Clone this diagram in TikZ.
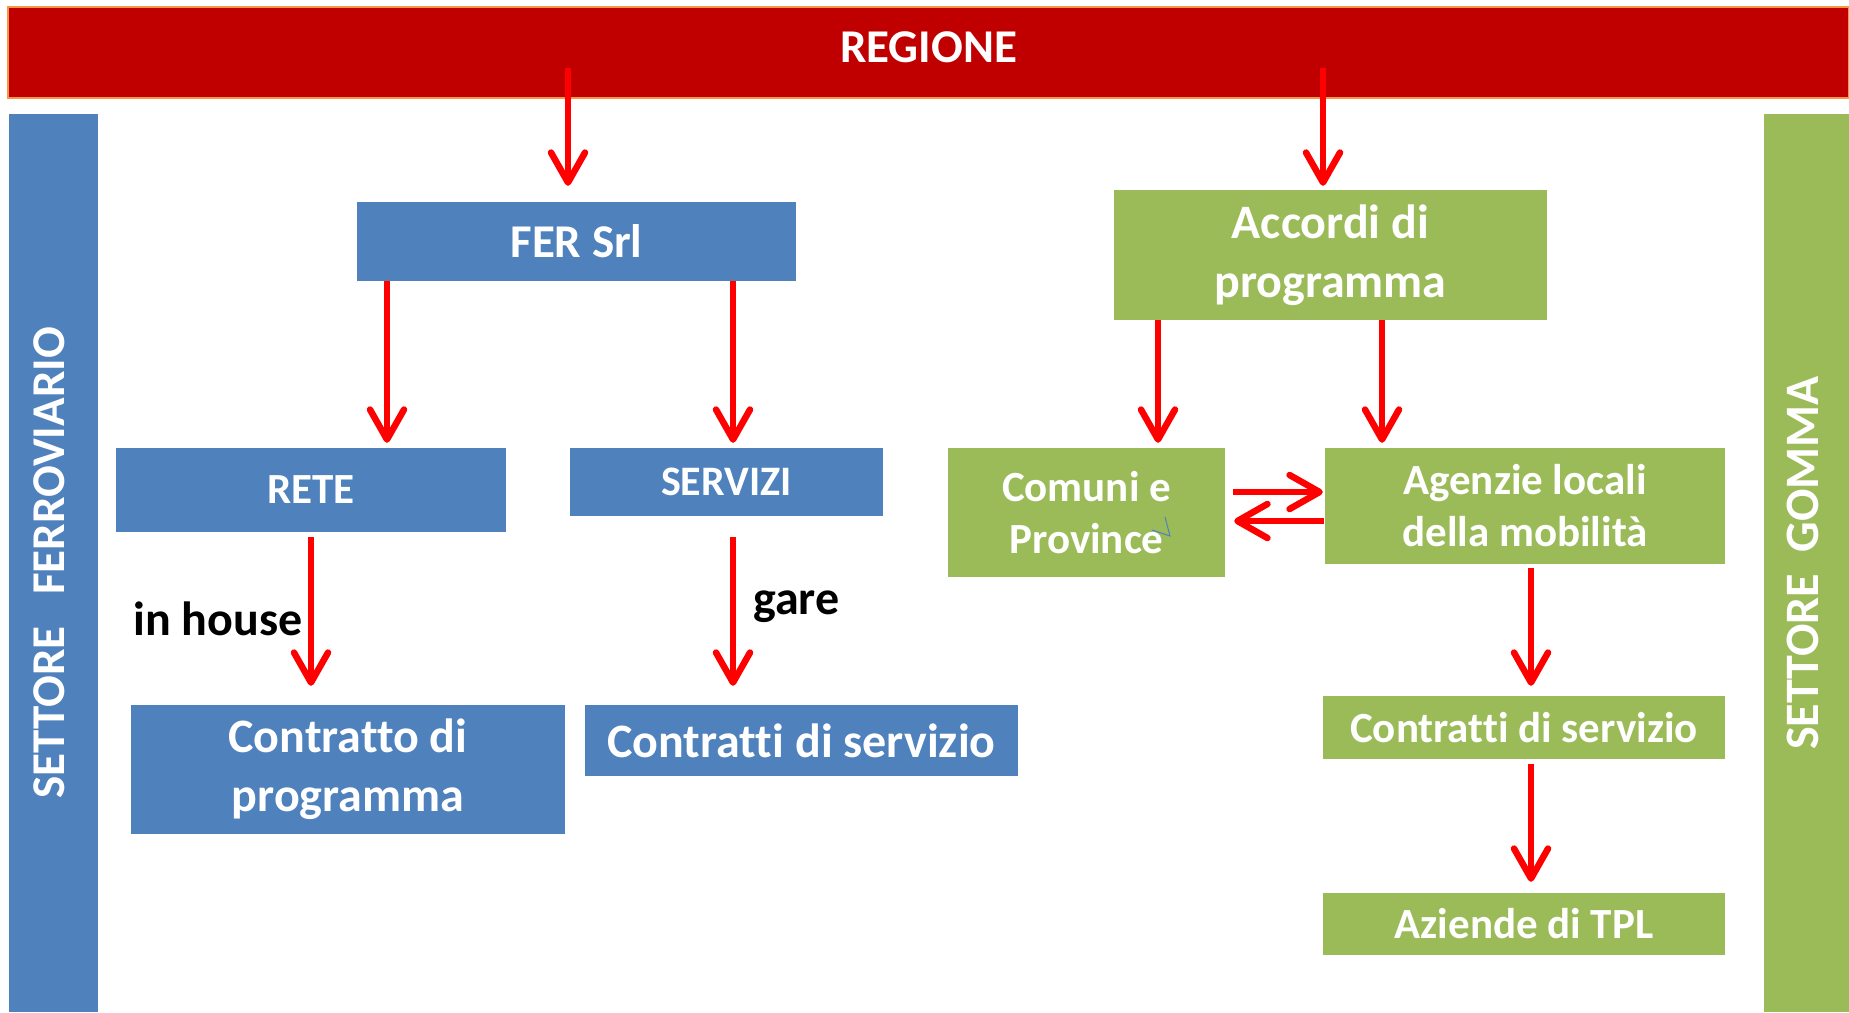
\documentclass[tikz,border=0pt]{standalone}
\usepackage{fontspec}
\setmainfont{Carlito}[Ligatures=CommonOff]
\usetikzlibrary{arrows.meta,positioning}
\definecolor{colRosso}{RGB}{192,0,0}
\definecolor{colArancio}{RGB}{247,150,70}
\definecolor{colBlu}{RGB}{79,129,189}
\definecolor{colVerde}{RGB}{155,187,89}
\definecolor{colFreccia}{RGB}{255,0,0}

\begin{document}
\begin{tikzpicture}[x=1pt,y=-1pt,
box/.style={rectangle,inner sep=0pt,text=white,align=center,
  font=\bfseries\fontsize{43}{52}\selectfont},
blu/.style={box,fill=colBlu},
verde/.style={box,fill=colVerde},
freccia/.style={-{Straight Barb[length=30pt,width=34pt,round]},
  line width=6.5pt,draw=colFreccia},
etichetta/.style={inner sep=0pt,text=black,
  font=\bfseries\fontsize{48}{56}\selectfont}]
\useasboundingbox (0,0) rectangle (1849,1012);

% fasce
\node[box,fill=colRosso,draw=colArancio,line width=2pt,text depth=10pt,
  font=\bfseries\fontsize{47}{56}\selectfont,
  minimum width=1841pt,minimum height=91pt] (regione) at (928.5,52.5) {REGIONE};
\node[blu,rotate=90,minimum width=898pt,minimum height=89pt,
  font=\bfseries\fontsize{47}{56}\selectfont,text depth=8pt]
  (ferroviario) at (53.5,563) {SETTORE\ \ \ FERROVIARIO};
\node[verde,rotate=90,minimum width=898pt,minimum height=85pt,
  font=\bfseries\fontsize{48}{56}\selectfont,text depth=8pt]
  (gomma) at (1806.5,563) {SETTORE\ \ GOMMA};

% settore ferroviario
\node[blu,minimum width=439pt,minimum height=79pt,font=\bfseries\fontsize{47}{56}\selectfont]
  (fer) at (576.5,241.5) {FER Srl};
\node[blu,minimum width=390pt,minimum height=84pt] (rete) at (311,490) {RETE};
\node[blu,minimum width=313pt,minimum height=68pt,font=\bfseries\fontsize{42}{50}\selectfont]
  (servizi) at (726.5,482) {SERVIZI};
\node[blu,minimum width=434pt,minimum height=129pt,font=\bfseries\fontsize{48}{59}\selectfont]
  (contratto) at (348,769.5) {Contratto di\\programma};
\node[blu,minimum width=433pt,minimum height=71pt,font=\bfseries\fontsize{48}{59}\selectfont]
  (serviziB) at (801.5,740.5) {Contratti di servizio};

% settore gomma
\node[verde,minimum width=433pt,minimum height=130pt,font=\bfseries\fontsize{48}{59}\selectfont]
  (accordi) at (1330.5,255) {Accordi di\\programma};
\node[verde,minimum width=277pt,minimum height=129pt] (comuni) at (1086.5,512.5)
  {Comuni e\\Province};
\node[verde,minimum width=400pt,minimum height=116pt] (agenzie) at (1525,506)
  {Agenzie locali\\della mobilità};
\node[verde,minimum width=402pt,minimum height=63pt] (serviziV) at (1524,727.5)
  {Contratti di servizio};
\node[verde,minimum width=402pt,minimum height=62pt] (aziende) at (1524,924)
  {Aziende di TPL};

% etichette
\node[etichetta] (inhouse) at (218,619) {in house};
\node[etichetta,anchor=west] (gare) at (753,607) {gare};

% frecce
\coordinate (r1) at (568,68);
\coordinate (r2) at (1323,68);
\draw[freccia,shorten >=16pt] (r1) -- (r1 |- fer.north);
\draw[freccia,shorten >=4pt] (r2) -- (r2 |- accordi.north);
\draw[freccia,shorten >=5pt] (fer.south -| 387,0) -- (rete.north -| 387,0);
\draw[freccia,shorten >=5pt] (fer.south -| 733,0) -- (servizi.north -| 733,0);
\draw[freccia,shorten >=5pt] (accordi.south -| 1158,0) -- (comuni.north -| 1158,0);
\draw[freccia,shorten >=5pt] (accordi.south -| 1382,0) -- (agenzie.north -| 1382,0);
\draw[freccia,shorten <=5pt,shorten >=19pt] (rete.south) -- (rete.south |- contratto.north);
\draw[freccia,shorten <=21pt,shorten >=19pt] (servizi.south -| 733,0) -- (serviziB.north -| 733,0);
\draw[freccia,shorten <=4pt,shorten >=10pt] (agenzie.south -| 1531,0) -- (serviziV.north -| 1531,0);
\draw[freccia,shorten <=5pt,shorten >=11pt] (serviziV.south -| 1531,0) -- (aziende.north -| 1531,0);
\draw[freccia,shorten <=8pt,shorten >=2pt] (comuni.east |- 0,492) -- (agenzie.west |- 0,492);
\draw[freccia,shorten <=1pt,shorten >=9pt] (agenzie.west |- 0,521) -- (comuni.east |- 0,521);

% segno blu
\draw[colBlu,line width=1pt] (1152,530) -- (1170,536) -- (1165,517);
\end{tikzpicture}
\end{document}
